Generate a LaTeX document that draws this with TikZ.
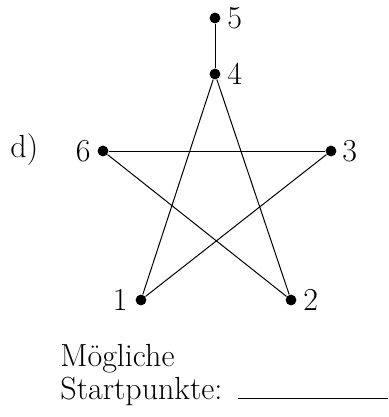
\documentclass[tikz,border=0pt]{standalone}
\begin{document}
\begin{tikzpicture}[x=0.5pt,y=-0.5pt,
  vtx/.style={circle,fill=black,inner sep=0pt,minimum size=5.4pt},
  lbl/.style={inner sep=0pt,font=\fontsize{16}{19}\selectfont},
  edge/.style={line width=0.5pt}]
\useasboundingbox (0,0) rectangle (388,417);
\node[vtx] (v5) at (215,18) {};
\node[vtx] (v4) at (215,74) {};
\node[vtx] (v6) at (103,151) {};
\node[vtx] (v3) at (331,151) {};
\node[vtx] (v1) at (141,300) {};
\node[vtx] (v2) at (291,300) {};
\node[lbl,anchor=west] (l5) at (227,18) {5};
\node[lbl,anchor=west] (l4) at (227,74) {4};
\node[lbl,anchor=east] (l6) at (91,151) {6};
\node[lbl,anchor=west] (l3) at (342,151) {3};
\node[lbl,anchor=east] (l1) at (128,300) {1};
\node[lbl,anchor=west] (l2) at (303,300) {2};
\node[lbl,anchor=base west] (d) at (10,157) {d)};
\draw[edge] (v5) -- (v4);
\draw[edge] (v4) -- (v1);
\draw[edge] (v4) -- (v2);
\draw[edge] (v6) -- (v3);
\draw[edge] (v6) -- (v2);
\draw[edge] (v3) -- (v1);
\node[lbl,anchor=base west] (m) at (60,366) {M\"ogliche};
\node[lbl,anchor=base west] (s) at (60,399) {Startpunkte:};
\coordinate (u1) at (238,398);
\coordinate (u2) at (388,398);
\draw[edge] (u1) -- (u2);
\end{tikzpicture}
\end{document}
